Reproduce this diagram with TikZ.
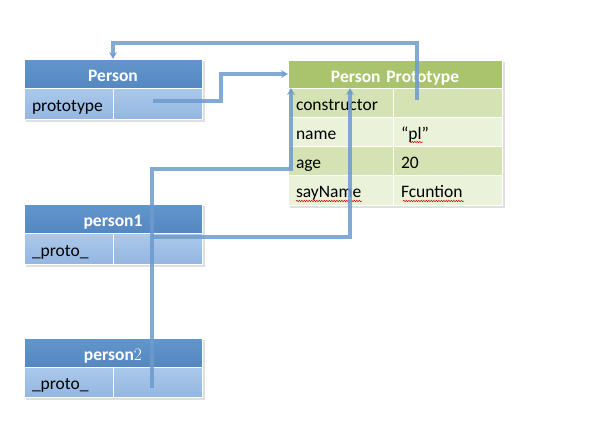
\documentclass[tikz,border=0pt]{standalone}
\usepackage{fontspec}
\newfontfamily\calfont{Carlito}
\usetikzlibrary{arrows.meta,calc,decorations.pathmorphing,shadows}
\definecolor{hblue}{HTML}{6196CC}
\definecolor{hblueb}{HTML}{5587C0}
\definecolor{rblue}{HTML}{ABC9EB}
\definecolor{rblueb}{HTML}{94B6E0}
\definecolor{hgreen}{HTML}{A9C46C}
\definecolor{gdark}{HTML}{D4E2B4}
\definecolor{glight}{HTML}{EAF3DA}
\definecolor{conncol}{HTML}{6C9BCD}
\tikzset{
  cellbase/.style={anchor=north west, inner xsep=8pt, inner ysep=0pt, outer sep=0pt, draw=white, line width=0.8pt, font=\calfont\fontsize{17.5}{20}\selectfont, text=black, text height=15pt, text depth=0pt, align=left},
  hdrblue/.style={cellbase, top color=hblue, bottom color=hblueb, text=white, font=\calfont\bfseries\fontsize{17.5}{20}\selectfont, text height=16pt, align=center},
  hdrgreen/.style={cellbase, fill=hgreen, text=white, font=\calfont\bfseries\fontsize{17.5}{20}\selectfont, text height=16pt, align=center},
  rowb/.style={cellbase, top color=rblue, bottom color=rblueb},
  rowg/.style={cellbase, fill=#1},
  conn/.style={draw=conncol, line width=3.2pt, opacity=0.85, -{Stealth[length=7pt,width=8pt]}},
  squig/.style={draw=red!80!black, line width=0.5pt, decorate, decoration={snake, segment length=2.5pt, amplitude=0.7pt}},
  shad/.style={fill=black!25, opacity=0.5}
}
\begin{document}
\begin{tikzpicture}[x=1pt,y=-1pt]
\useasboundingbox (0,0) rectangle (612,444);
% soft shadows
\fill[shad] (26,61) rectangle (205,122);
\fill[shad] (290,62) rectangle (505,208);
\fill[shad] (26,206) rectangle (205,267);
\fill[shad] (26,340) rectangle (205,400);
% Person
\node[hdrblue, text width=162pt, minimum height=29pt] (Ph) at (24,59) {Person};
\node[rowb, text width=73pt, minimum height=31pt] (Pk) at (24,88) {prototype};
\node[rowb, text width=73pt, minimum height=31pt] (Pv) at (113,88) {};
% Person Prototype
\node[hdrgreen, text width=198pt, minimum height=28pt] (PPh) at (288,60) {Person Prototype};
\node[rowg=gdark, text width=89pt, minimum height=29pt] (PPck) at (288,88) {constructor};
\node[rowg=gdark, text width=93pt, minimum height=29pt] (PPcv) at (393,88) {};
\node[rowg=glight, text width=89pt, minimum height=29pt] (PPnk) at (288,117) {name};
\node[rowg=glight, text width=93pt, minimum height=29pt] (PPnv) at (393,117) {“pl”};
\node[rowg=gdark, text width=89pt, minimum height=29pt] (PPak) at (288,146) {age};
\node[rowg=gdark, text width=93pt, minimum height=29pt] (PPav) at (393,146) {20};
\node[rowg=glight, text width=89pt, minimum height=30pt] (PPsk) at (288,175) {sayName};
\node[rowg=glight, text width=93pt, minimum height=30pt] (PPsv) at (393,175) {Fcuntion};
% spell-check squiggles
\draw[squig] (409,142) -- (423,142);
\draw[squig] (296,201) -- (362,201);
\draw[squig] (403,201) -- (464,201);
% person1
\node[hdrblue, text width=162pt, minimum height=29pt] (p1h) at (24,204) {person1};
\node[rowb, text width=73pt, minimum height=31pt] (p1k) at (24,233) {\_proto\_};
\node[rowb, text width=73pt, minimum height=31pt] (p1v) at (113,233) {};
% person2
\node[hdrblue, text width=162pt, minimum height=29pt] (p2h) at (24,338) {person{\rmfamily\mdseries 2}};
\node[rowb, text width=73pt, minimum height=30pt] (p2k) at (24,367) {\_proto\_};
\node[rowb, text width=73pt, minimum height=30pt] (p2v) at (113,367) {};
% connectors
\coordinate (s1) at ($(Pv.north west)+(40,13)$);
\draw[conn] (s1) -- ++(68,0) |- (PPh.west);
\coordinate (s2) at ($(PPcv.north west)+(24,12)$);
\draw[conn] (s2) |- ($(Ph.north)+(0,-16)$) -- (Ph.north);
\coordinate (s3) at ($(p1v.north west)+(39,4)$);
\draw[conn] (s3) -| ($(PPh.south west)+(62,0)$);
\coordinate (s4) at ($(p2v.north west)+(39,21)$);
\draw[conn] (s4) -- (152,169) -| ($(PPh.south west)+(3,0)$);
\end{tikzpicture}
\end{document}
